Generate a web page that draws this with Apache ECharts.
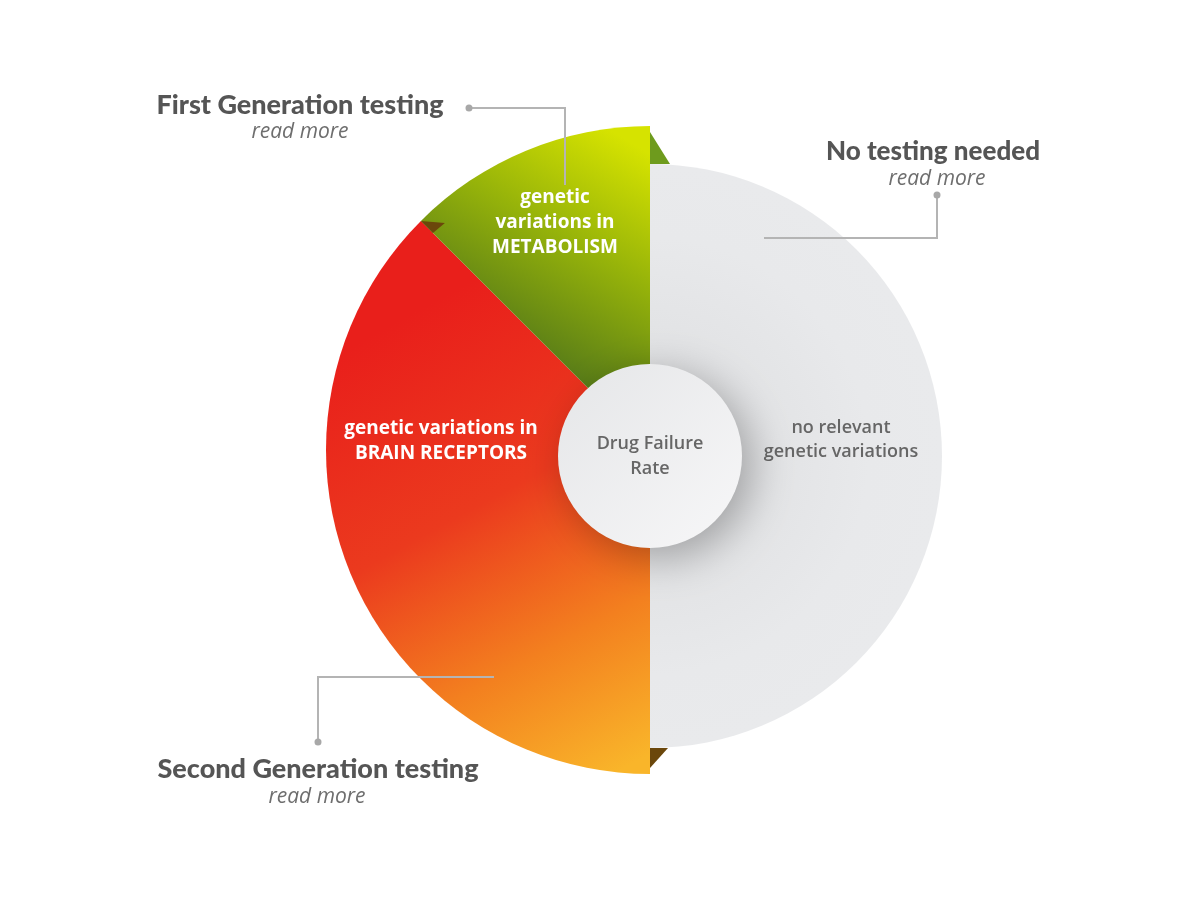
<!DOCTYPE html>
<html>
<head>
<meta charset="utf-8">
<script src="https://cdn.jsdelivr.net/npm/echarts@6/dist/echarts.min.js"></script>
<style>
  html, body { margin: 0; padding: 0; background: #ffffff; }
  #chart { width: 1200px; height: 900px; }
</style>
</head>
<body>
<div id="chart"></div>
<script>
// slices, clockwise from 12 o'clock
const categories = ['no relevant\ngenetic variations', 'genetic variations in\nBRAIN RECEPTORS', 'genetic\nvariations in\nMETABOLISM']
const shares = [50, 37.5, 12.5]
const groups = ['No testing needed', 'Second Generation testing', 'First Generation testing']
const linkText = 'read more'
const centerLabel = 'Drug Failure\nRate'

// layout
const CX = 650
const CY_GRAY = 456
const CY_COLOR = 450
const R_GRAY = 292
const R_COLOR = 324
const R_HOLE = 92
const labelPos = [[841, 440], [441, 441], [555, 223]]

const chart = echarts.init(document.getElementById('chart'))

const redFill = new echarts.graphic.LinearGradient(400, 320, 640, 760, [
  { offset: 0, color: '#e91f1b' },
  { offset: 0.4, color: '#eb3a1e' },
  { offset: 0.72, color: '#f3801f' },
  { offset: 1, color: '#f9b52a' }
], true)
const greenFill = new echarts.graphic.LinearGradient(540, 360, 660, 160, [
  { offset: 0, color: '#587c18' },
  { offset: 0.5, color: '#95b20a' },
  { offset: 1, color: '#d6e300' }
], true)
const grayFill = new echarts.graphic.RadialGradient(CX, CY_GRAY, R_GRAY, [
  { offset: 0, color: '#d8d9db' },
  { offset: 0.45, color: '#e3e4e6' },
  { offset: 0.75, color: '#e8e9eb' },
  { offset: 1, color: '#e9eaec' }
], true)
const fills = [grayFill, redFill, greenFill]
const labelColors = ['#666666', '#ffffff', '#ffffff']

const pieBase = {
  type: 'pie',
  startAngle: 90,
  clockwise: true,
  silent: true,
  animation: false,
  avoidLabelOverlap: false,
  labelLine: { show: false },
  emphasis: { disabled: true }
}

function sliceData(keep) {
  return shares.map((v, i) => ({
    name: categories[i],
    value: v,
    itemStyle: { color: keep.includes(i) ? fills[i] : 'transparent' },
    label: {
      show: keep.includes(i),
      color: labelColors[i],
      fontFamily: 'Open Sans',
      fontWeight: i === 0 ? 600 : 700,
      fontSize: i === 0 ? 18 : 19,
      lineHeight: i === 0 ? 24 : 25,
      align: 'center'
    }
  }))
}

const placeLabel = (p) => ({
  x: labelPos[p.dataIndex][0],
  y: labelPos[p.dataIndex][1],
  align: 'center',
  verticalAlign: 'middle'
})

// fold triangles
const tipA = (shares[0] + shares[1]) / 100 * 2 * Math.PI
const tipX = CX + R_COLOR * Math.sin(tipA)
const tipY = CY_COLOR - R_COLOR * Math.cos(tipA)

const leader = { stroke: '#b4b4b4', lineWidth: 2, fill: null }
const dot = { fill: '#a8a8a8' }

function heading(text, x, y, size) {
  return { type: 'text', x: x, y: y, style: { text: text, fill: '#555555', font: '900 ' + size + 'px Lato', align: 'center', verticalAlign: 'middle' } }
}
function more(x, y) {
  return { type: 'text', x: x, y: y, style: { text: linkText, fill: '#6e6e6e', font: 'italic 21px "Open Sans"', align: 'center', verticalAlign: 'middle' } }
}

chart.setOption({
  backgroundColor: '#ffffff',
  series: [
    Object.assign({}, pieBase, {
      name: 'gray',
      center: [CX, CY_GRAY],
      radius: [0, R_GRAY],
      label: { position: 'inside' },
      labelLayout: placeLabel,
      data: sliceData([0])
    }),
    Object.assign({}, pieBase, {
      name: 'colored',
      center: [CX, CY_COLOR],
      radius: [0, R_COLOR],
      label: { position: 'inside' },
      labelLayout: placeLabel,
      data: sliceData([1, 2])
    }),
    Object.assign({}, pieBase, {
      name: 'hole',
      center: [CX, CY_GRAY],
      radius: [0, R_HOLE],
      z: 5,
      itemStyle: {
        color: new echarts.graphic.LinearGradient(0, 0, 1, 1, [
          { offset: 0, color: '#e5e6e8' },
          { offset: 1, color: '#f7f7f8' }
        ]),
        shadowBlur: 40,
        shadowColor: 'rgba(0,0,0,0.28)',
        shadowOffsetX: 10,
        shadowOffsetY: 10
      },
      label: {
        show: true,
        position: 'center',
        formatter: centerLabel,
        color: '#666666',
        fontFamily: 'Open Sans',
        fontWeight: 600,
        fontSize: 18,
        lineHeight: 25
      },
      data: [{ name: 'center', value: 1 }]
    })
  ],
  graphic: [
    // folds
    { type: 'polygon', z: 1, shape: { points: [[CX, CY_COLOR - R_COLOR + 6], [CX + 20, CY_GRAY - R_GRAY], [CX, CY_GRAY - R_GRAY]] }, style: { fill: '#6e9b1d' } },
    { type: 'polygon', z: 1, shape: { points: [[CX, CY_GRAY + R_GRAY], [CX + 18, CY_GRAY + R_GRAY], [CX, CY_COLOR + R_COLOR - 6]] }, style: { fill: '#6b470b' } },
    { type: 'polygon', z: 10, shape: { points: [[tipX, tipY], [tipX + 24, tipY + 2], [tipX + 12, tipY + 12]] }, style: { fill: '#6b470b' } },
    // leaders
    { type: 'polyline', z: 10, shape: { points: [[469, 108], [565, 108], [565, 185]] }, style: leader },
    { type: 'circle', z: 10, shape: { cx: 469, cy: 108, r: 3.5 }, style: dot },
    { type: 'polyline', z: 10, shape: { points: [[937, 195], [937, 238], [764, 238]] }, style: leader },
    { type: 'circle', z: 10, shape: { cx: 937, cy: 195, r: 3.5 }, style: dot },
    { type: 'polyline', z: 10, shape: { points: [[494, 677], [318, 677], [318, 742]] }, style: leader },
    { type: 'circle', z: 10, shape: { cx: 318, cy: 742, r: 3.5 }, style: dot },
    // headings
    heading(groups[2], 300, 105, 27),
    more(300, 132),
    heading(groups[0], 933, 152, 26),
    more(937, 179),
    heading(groups[1], 318, 769, 27),
    more(317, 797)
  ]
})
</script>
</body>
</html>
